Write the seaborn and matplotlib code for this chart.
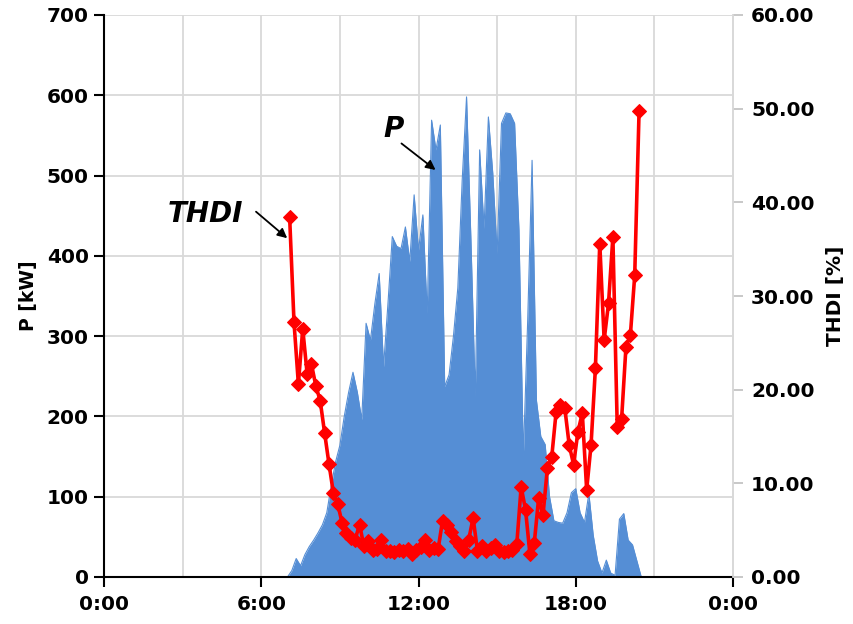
import numpy as np
import pandas as pd
import matplotlib
matplotlib.use("Agg")
import matplotlib.pyplot as plt
import seaborn as sns

# ---------------- data ----------------
# Active power P [kW], 10-minute samples starting 7:00
P_START_H = 7.0
P_STEP_MIN = 10
P_KW = [0, 8, 23, 14, 28, 38, 46, 55, 65, 80,
        113, 143, 164, 200, 230, 255, 230, 196, 316, 295,
        340, 378, 262, 340, 424, 412, 409, 436, 393, 476,
        407, 451, 328, 569, 532, 563, 237, 252, 300, 360,
        494, 598, 420, 225, 532, 434, 573, 503, 403, 565,
        578, 577, 565, 432, 150, 320, 519, 220, 175, 165,
        100, 70, 68, 67, 80, 105, 110, 80, 68, 104,
        52, 20, 5, 21, 5, 2, 72, 79, 46, 40,
        20, 0]

# THDI [%], 10-minute samples starting 7:05
THDI_START_H = 7.0 + 5 / 60
THDI_STEP_MIN = 10
THDI_PCT = [38.4, 27.2, 20.6, 26.5, 21.7, 22.7, 20.4, 18.8, 15.4, 12.1,
            9.0, 7.8, 5.8, 4.7, 4.2, 4.0, 5.6, 3.3, 3.8, 2.9,
            3.0, 4.0, 2.8, 2.8, 2.7, 2.9, 2.8, 3.0, 2.5, 2.9,
            3.2, 4.0, 2.9, 3.1, 3.0, 6.0, 5.5, 4.8, 3.8, 3.3,
            2.8, 4.0, 6.3, 2.8, 3.3, 2.8, 3.1, 3.4, 2.8, 2.7,
            2.8, 2.9, 3.5, 9.6, 7.2, 2.5, 3.6, 8.4, 6.6, 11.6,
            12.8, 17.6, 18.4, 18.0, 14.1, 12.0, 15.5, 17.5, 9.3, 14.1,
            22.3, 35.6, 25.3, 29.2, 36.3, 16.0, 16.9, 24.6, 25.8, 32.2,
            49.8]

X_TICKS = [0, 6, 12, 18, 24]
X_TICK_LABELS = ["0:00", "6:00", "12:00", "18:00", "0:00"]
P_TICKS = [0, 100, 200, 300, 400, 500, 600, 700]
THDI_TICKS = [0, 10, 20, 30, 40, 50, 60]

p_df = pd.DataFrame({
    "hour": P_START_H + np.arange(len(P_KW)) * P_STEP_MIN / 60,
    "P": P_KW,
})
t_df = pd.DataFrame({
    "hour": THDI_START_H + np.arange(len(THDI_PCT)) * THDI_STEP_MIN / 60,
    "THDI": THDI_PCT,
})

# ---------------- style ----------------
sns.set_theme(style="white")
plt.rcParams["font.family"] = ["DejaVu Sans"]
plt.rcParams["font.weight"] = "bold"
plt.rcParams["text.color"] = "black"
plt.rcParams["axes.labelcolor"] = "black"
plt.rcParams["xtick.color"] = "black"
plt.rcParams["ytick.color"] = "black"

fig = plt.figure(figsize=(8.54, 6.24), dpi=100)
ax = fig.add_axes([104 / 854, 1 - 577 / 624, (733 - 104) / 854, (577 - 15) / 624])

BLUE = "#558ED5"
RED = "#FF0000"
GRID = "#D9D9D9"

ax.fill_between(p_df["hour"], 0, p_df["P"], color=BLUE, linewidth=0, zorder=2)
sns.lineplot(data=p_df, x="hour", y="P", ax=ax, color=BLUE, linewidth=0.8, zorder=2)

ax.set_xlim(0, 24)
ax.set_ylim(0, 700)
ax.set_xticks(X_TICKS)
ax.set_xticklabels(X_TICK_LABELS)
ax.set_xticks([3, 9, 15, 21], minor=True)
ax.set_yticks(P_TICKS)
ax.grid(True, which="both", color=GRID, linewidth=1.3, zorder=0)
ax.set_axisbelow(True)
ax.tick_params(axis="x", which="major", direction="out", length=7, width=1.5,
               color="black", labelcolor="black", labelsize=14.5, pad=6, bottom=True)
ax.tick_params(axis="x", which="minor", length=0)
ax.tick_params(axis="y", direction="out", length=7, width=1.5, color="black",
               labelcolor="black", labelsize=14.5, pad=4, left=True)
for lab in ax.get_xticklabels() + ax.get_yticklabels():
    lab.set_fontweight("bold")
ax.set_xlabel("")
ax.set_ylabel("P [kW]", fontsize=13.5, fontweight="bold", labelpad=6, color="black")

ax.spines["top"].set_visible(False)
ax.spines["right"].set_color(GRID)
ax.spines["left"].set_color("black")
ax.spines["left"].set_linewidth(1.5)
ax.spines["bottom"].set_color("black")
ax.spines["bottom"].set_linewidth(1.5)

ax2 = ax.twinx()
sns.lineplot(data=t_df, x="hour", y="THDI", ax=ax2, color=RED, linewidth=2.6,
             marker="D", markersize=7.5, markeredgecolor=RED, markerfacecolor=RED,
             zorder=5)
ax2.set_ylim(0, 60)
ax2.set_yticks(THDI_TICKS)
ax2.set_yticklabels([f"{v:.2f}" for v in THDI_TICKS])
ax2.tick_params(axis="y", direction="out", length=7, width=1.2, color="#BFBFBF",
                labelcolor="black", labelsize=14.5, pad=6, right=True)
for lab in ax2.get_yticklabels():
    lab.set_fontweight("bold")
ax2.set_ylabel("THDI [%]", fontsize=14.5, fontweight="bold", labelpad=8, color="black")
ax2.set_xlabel("")
ax2.grid(False)
for s in ["top", "left", "bottom"]:
    ax2.spines[s].set_visible(False)
ax2.spines["right"].set_color(GRID)

# annotations (in P-axis coordinates)
ax.text(3.86, 452, "THDI", fontsize=20, fontweight="bold", style="italic",
        ha="center", va="center", color="black", zorder=6)
ax.annotate("", xy=(6.99, 422), xytext=(5.8, 455),
            arrowprops=dict(arrowstyle="-|>", color="black", lw=1.3,
                            mutation_scale=14, shrinkA=0, shrinkB=0), zorder=6)
ax.text(11.05, 558, "P", fontsize=20, fontweight="bold", style="italic",
        ha="center", va="center", color="black", zorder=6)
ax.annotate("", xy=(12.65, 507), xytext=(11.35, 540),
            arrowprops=dict(arrowstyle="-|>", color="black", lw=1.3,
                            mutation_scale=14, shrinkA=0, shrinkB=0), zorder=6)

fig.savefig("out.png", dpi=100)
